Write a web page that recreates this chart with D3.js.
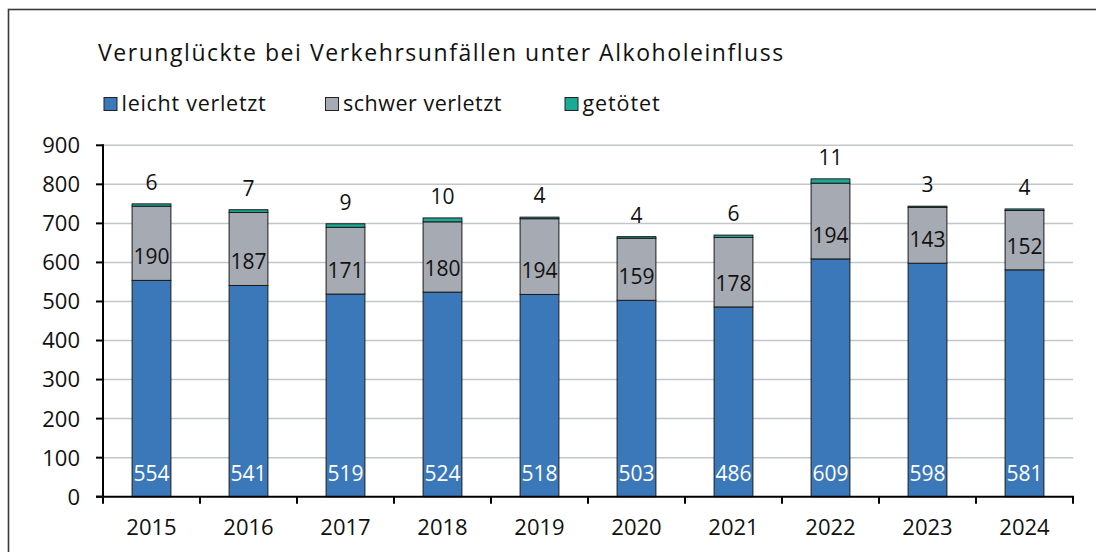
<!DOCTYPE html>
<html>
<head>
<meta charset="utf-8">
<script src="https://cdn.jsdelivr.net/npm/d3@7"></script>
<style>
  html, body { margin: 0; padding: 0; background: #fff; }
  svg { display: block; font-family: "Open Sans", "Noto Sans", sans-serif; font-weight: 400; }
</style>
</head>
<body>
<svg id="chart" width="1096" height="552"></svg>
<script>
// Verunglückte bei Verkehrsunfällen unter Alkoholeinfluss, 2015–2024
const years = ["2015", "2016", "2017", "2018", "2019", "2020", "2021", "2022", "2023", "2024"];
const leichtVerletzt = [554, 541, 519, 524, 518, 503, 486, 609, 598, 581];
const schwerVerletzt = [190, 187, 171, 180, 194, 159, 178, 194, 143, 152];
const getoetet = [6, 7, 9, 10, 4, 4, 6, 11, 3, 4];
const seriesNames = ["leicht verletzt", "schwer verletzt", "getötet"];
const yTicks = [0, 100, 200, 300, 400, 500, 600, 700, 800, 900];

const colors = ["#3b78b9", "#a6aab2", "#1aaa95"];

const svg = d3.select("#chart");
const plot = { left: 103, right: 1073, top: 145.3, bottom: 496.7 };

// spread a text run's letters so it covers the given width
function fitWidth(sel, width) {
  const node = sel.node();
  const n = node.getNumberOfChars();
  const w = node.getComputedTextLength();
  if (n > 1) sel.attr("letter-spacing", ((width - w) / n).toFixed(2));
}

// outer frame
svg.append("rect")
  .attr("x", 8.5).attr("y", 9.5)
  .attr("width", 1100).attr("height", 560)
  .attr("fill", "none").attr("stroke", "#3a3a3a").attr("stroke-width", 1.6);

// title
const title = svg.append("text")
  .attr("x", 98).attr("y", 60.5)
  .attr("font-size", 23).attr("fill", "#111")
  .text("Verunglückte bei Verkehrsunfällen unter Alkoholeinfluss");
fitWidth(title, 687);

// legend
const legendX = [103.5, 325, 564.5];
const legendW = [145, 159, 78];
seriesNames.forEach((name, i) => {
  const g = svg.append("g").attr("transform", `translate(${legendX[i]},97)`);
  g.append("rect").attr("x", 0.5).attr("y", 0.5).attr("width", 13).attr("height", 13)
    .attr("fill", colors[i]).attr("stroke", "#222").attr("stroke-width", 1);
  const t = g.append("text").attr("x", 18).attr("y", 13.7)
    .attr("font-size", 21.5).attr("fill", "#111").text(name);
  fitWidth(t, legendW[i]);
});

const x = d3.scaleBand().domain(years).range([plot.left, plot.right])
  .paddingInner(0.6).paddingOuter(0.3);
const y = d3.scaleLinear().domain([0, 900]).range([plot.bottom, plot.top]);

// gridlines
svg.append("g").selectAll("line").data(yTicks.filter(d => d > 0)).join("line")
  .attr("x1", plot.left).attr("x2", plot.right)
  .attr("y1", d => y(d)).attr("y2", d => y(d))
  .attr("stroke", "#c2c5ca").attr("stroke-width", 1.5);

// stacked bars
const rows = years.map((yr, i) => ({
  year: yr, leicht: leichtVerletzt[i], schwer: schwerVerletzt[i], tot: getoetet[i]
}));
const stack = d3.stack().keys(["leicht", "schwer", "tot"])(rows);

svg.append("g").selectAll("g").data(stack).join("g")
  .attr("fill", (d, i) => colors[i])
  .selectAll("rect").data(d => d).join("rect")
  .attr("x", d => x(d.data.year))
  .attr("width", x.bandwidth())
  .attr("y", d => y(d[1]))
  .attr("height", d => y(d[0]) - y(d[1]))
  .attr("stroke", "#1a1a1a").attr("stroke-width", 1);

// value labels: base of each segment, deaths above the bar
const labels = svg.append("g").attr("font-size", 21).attr("text-anchor", "middle");
labels.selectAll("text.leicht").data(stack[0]).join("text")
  .attr("class", "leicht")
  .attr("x", d => x(d.data.year) + x.bandwidth() / 2)
  .attr("y", d => y(d[0]) - 16)
  .attr("fill", "#fff")
  .text(d => d.data.leicht);
labels.selectAll("text.schwer").data(stack[1]).join("text")
  .attr("class", "schwer")
  .attr("x", d => x(d.data.year) + x.bandwidth() / 2)
  .attr("y", d => y(d[0]) - 16)
  .attr("fill", "#111")
  .text(d => d.data.schwer);
labels.selectAll("text.tot").data(stack[2]).join("text")
  .attr("class", "tot")
  .attr("x", d => x(d.data.year) + x.bandwidth() / 2)
  .attr("y", d => y(d[1]) - 14)
  .attr("fill", "#111")
  .text(d => d.data.tot);

// y axis
const yAxis = svg.append("g");
yAxis.append("line")
  .attr("x1", plot.left).attr("x2", plot.left)
  .attr("y1", plot.top - 1).attr("y2", plot.bottom + 1)
  .attr("stroke", "#000").attr("stroke-width", 2);
yAxis.selectAll("line.tick").data(yTicks).join("line")
  .attr("class", "tick")
  .attr("x1", plot.left - 7).attr("x2", plot.left)
  .attr("y1", d => y(d)).attr("y2", d => y(d))
  .attr("stroke", "#000").attr("stroke-width", 2);
yAxis.selectAll("text").data(yTicks).join("text")
  .attr("x", 80).attr("y", d => y(d)).attr("dy", "0.36em")
  .attr("text-anchor", "end").attr("font-size", 22).attr("fill", "#111")
  .text(d => d);

// x axis
const xAxis = svg.append("g");
xAxis.append("line")
  .attr("x1", plot.left - 7).attr("x2", plot.right + 1)
  .attr("y1", plot.bottom).attr("y2", plot.bottom)
  .attr("stroke", "#000").attr("stroke-width", 2);
const step = x.step();
const boundaries = years.map((yr, i) => x(yr) - x.paddingInner() * step / 2);
boundaries.push(plot.right);
xAxis.selectAll("line.tick").data(boundaries).join("line")
  .attr("class", "tick")
  .attr("x1", d => d).attr("x2", d => d)
  .attr("y1", plot.bottom).attr("y2", plot.bottom + 7)
  .attr("stroke", "#000").attr("stroke-width", 2);
xAxis.selectAll("text").data(years).join("text")
  .attr("x", d => x(d) + x.bandwidth() / 2)
  .attr("y", 534.5)
  .attr("text-anchor", "middle").attr("font-size", 22).attr("fill", "#111")
  .text(d => d);
</script>
</body>
</html>
